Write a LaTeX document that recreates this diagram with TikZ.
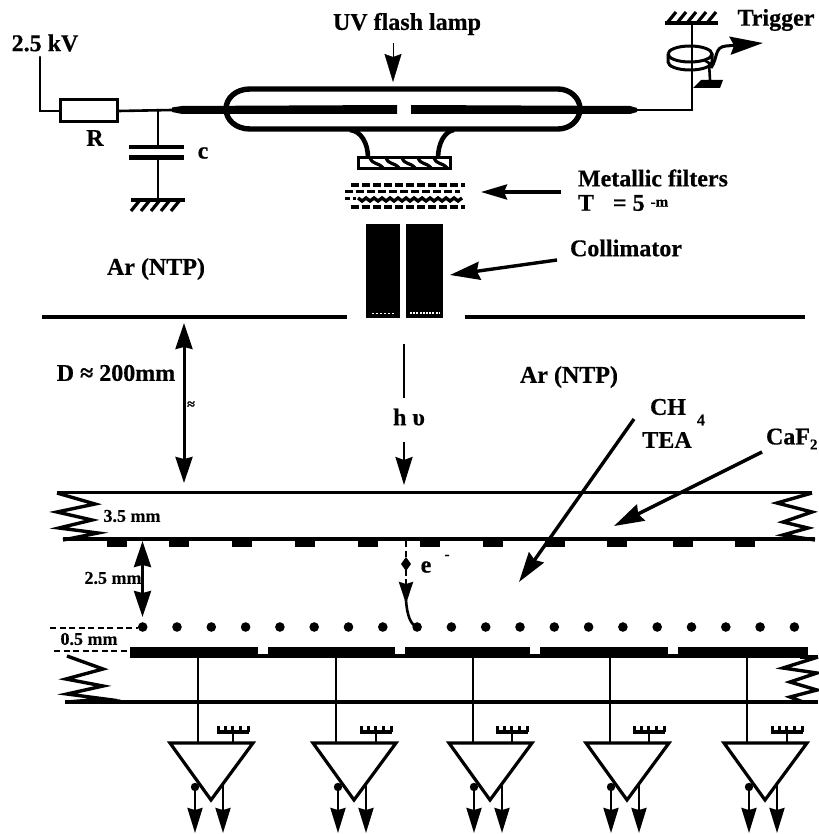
\documentclass[tikz,border=0pt]{standalone}
\usepackage{fontspec}
\setmainfont[BoldFeatures={FakeBold=0.5}]{Liberation Serif}
\usetikzlibrary{arrows.meta}
\newcommand{\fsz}[1]{\fontsize{#1}{#1}\selectfont}
\tikzset{
  lab/.style={inner sep=0pt,outer sep=0pt,font=\fsz{24}\bfseries},
  smalllab/.style={inner sep=0pt,outer sep=0pt,font=\fsz{18}\bfseries},
  wire/.style={line width=2.6pt,line cap=round,line join=miter},
  rail/.style={line width=3.8pt},
  zig/.style={line width=3.4pt,line join=miter},
  head/.style={-{Stealth[length=28pt,width=17pt,inset=3pt]}},
  dhead/.style={{Stealth[length=26pt,width=17pt,inset=2pt]}-{Stealth[length=26pt,width=17pt,inset=2pt]}},
  callout/.style={line width=3.4pt,-{Stealth[length=30pt,width=18pt,inset=3pt]}},
  shortdash/.style={line width=2.8pt,dash pattern=on 6pt off 3.5pt},
  filterline/.style={line width=3.6pt,dash pattern=on 8pt off 3pt},
  glass/.style={line width=5.4pt,line cap=round},
}
\begin{document}
\begin{tikzpicture}[x=1pt,y=-1pt]
\useasboundingbox (0,0) rectangle (818,834);

% ---- labels
\node[lab] (hv) at (45,43) {2.5 kV};
\node[lab] (Rl) at (95,138) {R};
\node[lab] (cl) at (203,153) {c};
\node[lab] (uv) at (407,24) {UV flash lamp};
\node[lab] (trig) at (776,20) {Trigger};
\node[lab,anchor=west] (metal) at (578,178) {Metallic filters};
\node[lab,anchor=west] (tee) at (578,203) {T\hspace{19pt}= 5 \raisebox{4pt}{\fsz{15}-m}};
\node[lab] (coll) at (626,248) {Collimator};
\node[lab] (ar1) at (156,269) {Ar (NTP)};
\node[lab] (ar2) at (569,377) {Ar (NTP)};
\node[lab] (dd) at (116,373) {D ≈ 200mm};
\node[inner sep=0pt,font=\fsz{14}\bfseries] (apx) at (191,405) {≈};
\node[lab] (hnu) at (409,417) {h υ};
\node[lab,anchor=west] (ch) at (650,407) {CH};
\node[inner sep=0pt,font=\fsz{16}\bfseries] (four) at (701,420) {4};
\node[lab] (tea) at (667,440) {TEA};
\node[lab,anchor=west] (caf) at (766,439) {CaF\raisebox{-5pt}{\fsz{15}2}};
\node[smalllab] (t35) at (132,516) {3.5 mm};
\node[smalllab] (t25) at (113,578) {2.5 mm};
\node[smalllab] (t05) at (89,639) {0.5 mm};
\node[lab] (el) at (426,567) {e};
\node[inner sep=0pt,font=\fsz{15}\bfseries] (em) at (447,557) {-};

% ---- HV circuit
\node[draw,line width=3pt,minimum width=57pt,minimum height=22pt,inner sep=0pt] (res) at (88.5,111) {};
\coordinate (jn) at (158,110);
\coordinate (eL) at (172,110);
\draw[wire] (40,57) |- (res.west);
\draw[wire] (res.east) -- (eL);
\draw[wire] (jn) -- (158,146);
\draw[line width=4.8pt] (129,147) -- (184,147);
\draw[line width=4.8pt] (129,157.5) -- (184,157.5);
\draw[wire] (158,158) -- (158,200);
\draw[line width=3.4pt] (131,200) -- (185,200);
\foreach \x in {140,150,160,170,180}
  \draw[line width=3.2pt] (\x,200) -- (\x-9,211);

% ---- lamp
\draw[glass] (250,89) -- (558,89) .. controls (570,89) and (580,98) .. (580,109)
  .. controls (580,120) and (570,129) .. (558,129) -- (250,129)
  .. controls (236,129) and (226,120) .. (226,109)
  .. controls (226,98) and (236,89) .. (250,89) -- cycle;
\fill (172,107.5) -- (182,106) -- (397,105) -- (397,114) -- (182,114) -- (172,112) -- cycle;
\fill (411,105) -- (630,106) -- (637,108) -- (637,112) -- (630,114) -- (411,114) -- cycle;
\draw[wire] (637,110) -- (692,110);
\draw[line width=4.6pt] (350,130) .. controls (361,131) and (368,143) .. (368,158);
\draw[line width=4.6pt] (454,130) .. controls (445,131) and (438,143) .. (438,158);
\draw[line width=3.4pt] (358.5,157.5) rectangle (450.5,168.5);
\foreach \x in {370,386,402,418,434}
  \draw[line width=3.2pt] (\x,158) .. controls (\x+3,165) and (\x+8,162) .. (\x+13,168);

\draw[head] (393,43) -- (393,82);

% ---- filters
\draw[filterline] (351,185) -- (465,185);
\draw[filterline] (345,191.5) -- (460,191.5);
\draw[line width=3.4pt] (358,198) \foreach \i in {0,...,12} { -- ++(4,3) -- ++(4,-3) };
\draw[filterline,dash pattern=on 5pt off 3pt] (345,198.5) -- (356,198.5);
\draw[filterline] (351,207) -- (465,207);
\draw[line width=3.4pt,-{Stealth[length=26pt,width=15pt,inset=3pt]}] (561,192) -- (481,192);

% ---- collimator
\fill (366,224) rectangle (400,318);
\fill (406,224) rectangle (443,318);
\draw[white,line width=1pt,dash pattern=on 2pt off 2pt] (372,313) -- (395,313);
\draw[white,line width=1.4pt,dash pattern=on 2pt off 1.2pt] (410,313) -- (439,313);
\draw[callout] (557,260) -- (450,275);

% ---- trigger
\coordinate (gt) at (692,22);
\draw[wire] (692,110) -- (gt);
\draw[line width=3.4pt] (665,23) -- (718,23);
\foreach \x in {667,677,687,697,707}
  \draw[line width=3.2pt] (\x,23) -- (\x+9,12);
\draw[line width=3pt] (668,54) arc[start angle=180,end angle=-180,x radius=22pt,y radius=8pt];
\draw[line width=3pt] (668,54) -- (668,62) arc[start angle=180,end angle=360,x radius=22pt,y radius=8pt] -- (712,54);
\draw[line width=2.6pt] (704,60) -- (709,63) -- (710,80);
\fill (693,88) -- (701,80) -- (723,80) -- (720,88) -- cycle;
\draw[line width=3pt,-{Stealth[length=33pt,width=18pt,inset=4pt]}]
  (711,68) .. controls (718,58) and (714,47) .. (726,46) -- (763,43);

% ---- drift plane
\draw[rail] (42,317) -- (347,317);
\draw[rail] (465,317) -- (805,317);
\draw[dhead,line width=3pt] (184,323) -- (184,483);
\draw[line width=2.6pt] (404,344) -- (404,398);
\draw[head,line width=2.6pt] (404,442) -- (404,485);

% ---- CaF2 plate
\draw[zig] (57,493) -- (95,504) -- (57,512) -- (92,520) -- (59,528) -- (98,533) -- (63,540);
\draw[rail] (57,492.5) -- (812,492.5);
\draw[rail] (63,539) -- (815,539);
\draw[zig] (812,493) -- (777,503) -- (812,512) -- (783,522) -- (808,528) -- (783,535) -- (815,540);
\foreach \x in {107,169,232,295,358,420,483,545,607,673,735}
  \fill (\x,539) rectangle (\x+20,547);
\draw[dhead,line width=3pt] (142.5,541) -- (142.5,617);

% ---- electron
\draw[shortdash] (406,541) -- (406,584);
\fill (406,557) -- (411,564) -- (406,571) -- (401,564) -- cycle;
\draw[line width=2.6pt,-{Stealth[length=22pt,width=14pt,inset=2pt]}] (406,584) -- (406,604);
\draw[line width=2.6pt] (406,600) .. controls (407,616) and (411,625) .. (417,627);

% ---- wires (dots)
\foreach \i in {0,...,19}
  \fill ({142.7+34.3*\i},627) circle[radius=4.8pt];
\draw[shortdash] (50,628) -- (138,628);
\draw[shortdash] (54,651) -- (130,651);

% ---- anode
\fill (130,647) rectangle (808,657.5);
\foreach \x in {263,400,535,673}
  \fill[white] (\x-5,646) rectangle (\x+5,654);
\draw[line width=3.2pt] (800,657) -- (818,657);
\draw[zig] (67,656) -- (103,669) -- (66,679) -- (103,686) -- (67,694) -- (105,699) -- (67,702);
\draw[zig] (818,657) -- (783,668) -- (817,673) -- (790,682) -- (817,690) -- (790,697) -- (803,702);
\draw[rail] (65,702) -- (818,702);

% ---- callouts over plates
\draw[callout] (634,419) -- (519,582);
\draw[callout] (762,452) -- (614,526);

% ---- readout amplifiers
\foreach \w/\a in {198/211,336/354,473/490,610/627,747/765} {
  \draw[wire] (\w,657) -- (\w,743);
  \draw[line width=3.2pt,line join=miter] (\a-41,743) -- (\a+42,743) -- (\a,800) -- cycle;
  \draw[wire] (\a+22,743) -- (\a+22,732);
  \draw[line width=3.4pt] (\a+6,732) -- (\a+38,732);
  \foreach \t in {7,14,21,29,37}
    \draw[line width=3pt] (\a+\t,732) -- (\a+\t,726);
  \fill (\a-16,787) circle[radius=4.2pt];
  \draw[line width=2.6pt,-{Stealth[length=25pt,width=15pt,inset=2pt]}] (\a-16,787) -- (\a-16,833);
  \draw[line width=2.6pt,-{Stealth[length=25pt,width=15pt,inset=2pt]}] (\a+12,785) -- (\a+12,833);
}
\end{tikzpicture}
\end{document}
